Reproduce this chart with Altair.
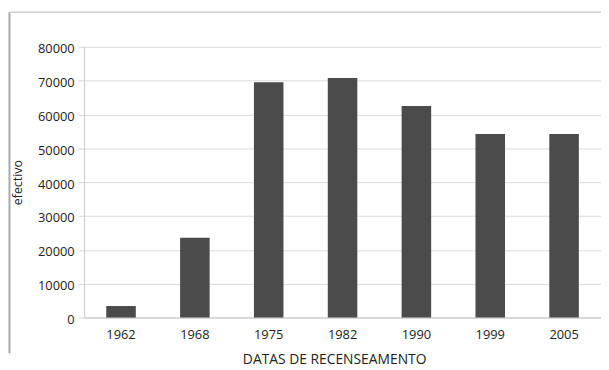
import altair as alt
import pandas as pd

years = ["1962", "1968", "1975", "1982", "1990", "1999", "2005"]
efectivo = [3400, 23600, 69500, 70800, 62500, 54200, 54200]
y_ticks = [0, 10000, 20000, 30000, 40000, 50000, 60000, 70000, 80000]

df = pd.DataFrame({"ano": years, "efectivo": efectivo})

FONT = "Open Sans"
W, H = 523, 274

bars = alt.Chart(df).mark_bar(color="#4b4b4b").encode(
    x=alt.X(
        "ano:N",
        sort=years,
        scale=alt.Scale(paddingInner=0.6, paddingOuter=0.3),
        axis=alt.Axis(
            title="DATAS DE RECENSEAMENTO",
            labelAngle=0,
            ticks=False,
            labelPadding=11,
            labelFontSize=13,
            labelColor="#222222",
            titleFontSize=14,
            titleFontWeight="normal",
            titleColor="#222222",
            titleBaseline="middle",
            titleX=253,
            titleY=43,
            domainColor="#c4c4c4",
        ),
    ),
    y=alt.Y(
        "efectivo:Q",
        scale=alt.Scale(domain=[0, 80000], nice=False),
        axis=alt.Axis(
            title="efectivo",
            values=y_ticks,
            format="d",
            tickSize=6,
            tickColor="#d6d6d6",
            labelPadding=4,
            labelOffset=2,
            labelFontSize=13,
            labelColor="#222222",
            gridColor="#dcdcdc",
            domainColor="#c8c8c8",
            titleFontSize=12.5,
            titleFontWeight="normal",
            titleColor="#222222",
            titleAngle=270,
            titleBaseline="middle",
            titleX=-67,
            titleY=H / 2,
        ),
    ),
)

frame_src = alt.Data(values=[{}])
left_line = alt.Chart(frame_src).mark_rule(color="#a8a8a8", strokeWidth=2).encode(
    x=alt.value(-75.5), y=alt.value(-35), y2=alt.value(310)
)
top_line = alt.Chart(frame_src).mark_rule(color="#cfcfcf", strokeWidth=1.5).encode(
    x=alt.value(-76), x2=alt.value(W + 10), y=alt.value(-35)
)

chart = (
    alt.layer(bars, left_line, top_line)
    .properties(
        width=W,
        height=H,
        autosize=alt.AutoSizeParams(type="none"),
        padding={"left": 77, "top": 37, "right": 0, "bottom": 62},
    )
    .configure(font=FONT)
    .configure_view(stroke=None)
)

chart.save("out.html", embed_options={"renderer": "svg", "actions": False})
